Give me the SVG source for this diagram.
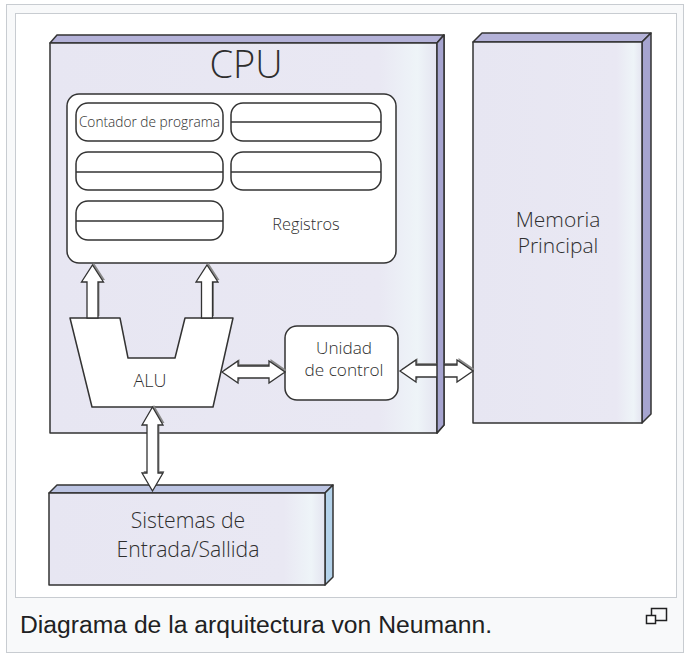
<svg xmlns="http://www.w3.org/2000/svg" xmlns:xlink="http://www.w3.org/1999/xlink" width="688" height="664" viewBox="0 0 688 664">
<defs>
<linearGradient id="face" x1="0" y1="0" x2="1" y2="0">
<stop offset="0" stop-color="#e7e6f2"/>
<stop offset="0.85" stop-color="#e9e8f3"/>
<stop offset="0.95" stop-color="#eef4f8"/>
<stop offset="1" stop-color="#e4e4f0"/>
</linearGradient>
<style>
.ln{stroke:#333;stroke-width:1.5;stroke-linejoin:round}
.face{fill:url(#face)}
.top{fill:#b4b2d8}
.side{fill:#a6a4cf}
.w{fill:#fff}
.t{font-family:"Open Sans","Liberation Sans",sans-serif;font-weight:300;fill:#2e2e2e;text-anchor:middle}
.sh{fill:#8a8a8a}
.ar{fill:#fff;stroke:#333;stroke-width:1.3;stroke-linejoin:miter}
</style>
</defs>
<rect x="6.5" y="4.5" width="677" height="648" fill="#f8f9fa" stroke="#c8ccd1"/>
<rect x="15.5" y="13.5" width="661" height="584" fill="#fff" stroke="#c8ccd1"/>

<g id="cpu">
<polygon class="top ln" points="50,43 57,35 444,35 437,43"/>
<polygon id="cpuSide" class="side ln" points="437,43 444,35 444,425 437,433"/>
<rect class="face ln" x="50" y="43" width="387" height="390"/>
<text class="t" x="246" y="78" font-size="38">CPU</text>
</g>

<g id="memoria">
<polygon class="top ln" points="473,42 482,33 651,33 642,42"/>
<polygon class="side ln" points="642,42 651,33 651,414 642,423"/>
<rect class="face ln" x="473" y="42" width="169" height="381"/>
<text class="t" x="558" y="227" font-size="21">Memoria</text>
<text class="t" x="558" y="253" font-size="21">Principal</text>
</g>

<g id="sistemas">
<polygon class="ln" fill="#bcc4e2" points="49,493 57,485 333,485 325,493"/>
<polygon class="ln" fill="#b4d2ea" points="325,493 333,485 333,577 325,585"/>
<rect class="face ln" x="49" y="493" width="276" height="92"/>
<text class="t" x="188" y="528" font-size="21.2">Sistemas de</text>
<text class="t" x="188" y="557" font-size="21.2">Entrada/Sallida</text>
</g>

<g id="registros">
<rect class="w ln" x="67" y="94" width="329" height="169" rx="12"/>
<rect class="w ln" x="76" y="103" width="147" height="38" rx="12"/>
<text class="t" x="149.5" y="127" font-size="13.7">Contador de programa</text>
<rect class="w ln" x="231" y="103" width="150" height="38" rx="12"/>
<line class="ln" x1="231" y1="122" x2="381" y2="122"/>
<rect class="w ln" x="76" y="152" width="147" height="38" rx="12"/>
<line class="ln" x1="76" y1="172" x2="223" y2="172"/>
<rect class="w ln" x="231" y="152" width="150" height="38" rx="12"/>
<line class="ln" x1="231" y1="172" x2="381" y2="172"/>
<rect class="w ln" x="76" y="201" width="147" height="39" rx="12"/>
<line class="ln" x1="76" y1="221" x2="223" y2="221"/>
<text class="t" x="306" y="230" font-size="16.3">Registros</text>
</g>

<g id="alu">
<polygon class="w ln" points="70,318 120,318 128,358 175,358 185,318 233,318 213,407 92,407"/>
<text class="t" x="150" y="387" font-size="18">ALU</text>
</g>

<g id="control">
<rect class="w ln" x="285" y="326" width="113" height="74" rx="12"/>
<text class="t" x="344" y="354" font-size="17.2">Unidad</text>
<text class="t" x="344" y="376" font-size="17.2">de control</text>
</g>

<g id="connectors">
<g transform="translate(1.5,-2)" class="sh">
<polygon points="92.5,265 103.5,282 98,282 98,318 87,318 87,282 81.5,282"/>
<polygon points="207,265 218,282 212.5,282 212.5,318 201.5,318 201.5,282 196,282"/>
<polygon points="222,372 238,361 238,366 269,366 269,361 285,372 269,383 269,378 238,378 238,383"/>
<polygon points="400,371 416,360 416,365 457,365 457,360 473,371 457,382 457,377 416,377 416,382"/>
<polygon points="152.5,407 163,425 158,425 158,473 163,473 152.5,491 142,473 147,473 147,425 142,425"/>
</g>
<polygon class="ar" points="92.5,265 103.5,282 98,282 98,318 87,318 87,282 81.5,282"/>
<polygon class="ar" points="207,265 218,282 212.5,282 212.5,318 201.5,318 201.5,282 196,282"/>
<polygon class="ar" points="222,372 238,361 238,366 269,366 269,361 285,372 269,383 269,378 238,378 238,383"/>
<polygon class="ar" points="400,371 416,360 416,365 457,365 457,360 473,371 457,382 457,377 416,377 416,382"/>
<polygon class="ar" points="152.5,407 163,425 158,425 158,473 163,473 152.5,491 142,473 147,473 147,425 142,425"/>
</g>
<use xlink:href="#cpuSide"/>

<text x="20" y="633" font-family="'Liberation Sans',Arial,sans-serif" font-size="24.7" fill="#202122">Diagrama de la arquitectura von Neumann.</text>
<g fill="none" stroke="#202122" stroke-width="1.5">
<rect x="651.5" y="608.5" width="15" height="12" fill="#f8f9fa"/>
<rect x="646.5" y="615.5" width="9" height="8" fill="#fff"/>
</g>
</svg>
